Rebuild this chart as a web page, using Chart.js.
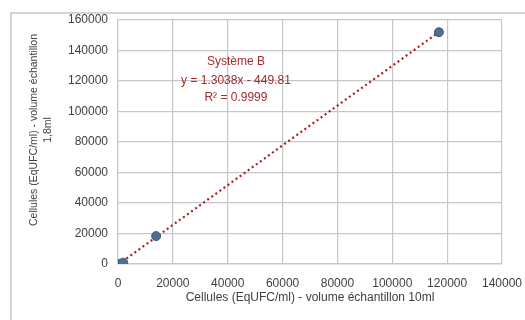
<!DOCTYPE html>
<html>
<head>
<meta charset="utf-8">
<script src="https://cdn.jsdelivr.net/npm/chart.js@4"></script>
<style>
  body { margin: 0; background: #fff; }
  #wrap { position: relative; width: 525px; height: 320px; }
  #frame { position: absolute; left: 10px; top: 12px; width: 520px; height: 320px;
           border-left: 2px solid #d4d4d4; border-top: 2px solid #d4d4d4; }
  canvas { position: absolute; left: 0; top: 0; }
</style>
</head>
<body>
<div id="wrap">
  <div id="frame"></div>
  <canvas id="chart" width="525" height="320"></canvas>
</div>
<script>
'use strict';
// measured points (x = 10ml sample, y = 1,8ml sample)
let xVals = [100, 1900, 13900, 117000];
let yVals = [100, 900, 18300, 152000];
// trendline endpoints (y = 1.3038x - 449.81)
let trendX = [100, 117000];
let trendY = [-320, 152095];
let xTicks = [0, 20000, 40000, 60000, 80000, 100000, 120000, 140000];
let yTicks = [0, 20000, 40000, 60000, 80000, 100000, 120000, 140000, 160000];
let labelLines = ['Système B', 'y = 1.3038x - 449.81', 'R² = 0.9999'];
let xTitle = 'Cellules (EqUFC/ml) - volume échantillon 10ml';
let yTitle = ['Cellules (EqUFC/ml) - volume échantillon', '1,8ml'];

let font = '"Liberation Sans", Arial, sans-serif';

let points = [];
for (let i = 0; i < xVals.length; i++) {
    points.push({x: xVals[i], y: yVals[i]});
}
let trend = [];
for (let i = 0; i < trendX.length; i++) {
    trend.push({x: trendX[i], y: trendY[i]});
}

let textPlugin = {
    id: 'texts',
    afterDraw(chart) {
        let ctx = chart.ctx;
        let xs = chart.scales.x;
        ctx.save();
        // equation label
        ctx.fillStyle = '#a92a2a';
        ctx.font = '12px ' + font;
        ctx.textAlign = 'center';
        ctx.textBaseline = 'middle';
        let cx = xs.getPixelForValue(43000);
        ctx.fillText(labelLines[0], cx, 62);
        ctx.fillText(labelLines[1], cx, 81);
        ctx.fillText(labelLines[2], cx, 98);
        // axis titles
        ctx.fillStyle = '#404040';
        ctx.fillText(xTitle, 310, 298);
        ctx.font = '10.5px ' + font;
        ctx.translate(41, 130);
        ctx.rotate(-Math.PI / 2);
        ctx.fillText(yTitle[0], 0, -7);
        ctx.fillText(yTitle[1], 0, 7);
        ctx.restore();
    }
};

let chart = new Chart(document.getElementById('chart'), {
    type: 'scatter',
    data: {
        datasets: [
            {
                label: 'trend',
                type: 'line',
                data: trend,
                borderColor: '#b01c1c',
                borderWidth: 2.2,
                borderDash: [2, 3],
                pointRadius: 0,
                fill: false,
                order: 2
            },
            {
                label: 'points',
                data: points,
                backgroundColor: '#4f6e92',
                borderColor: '#3f5c7c',
                borderWidth: 1,
                pointRadius: 4.5,
                order: 1
            }
        ]
    },
    options: {
        responsive: false,
        animation: false,
        layout: { padding: { left: 0, top: 20, right: 23, bottom: 0 } },
        plugins: { legend: { display: false }, tooltip: { enabled: false } },
        scales: {
            x: {
                type: 'linear',
                min: 0, max: 140000,
                afterBuildTicks: s => { s.ticks = xTicks.map(v => ({value: v})); },
                afterFit: s => { s.height = 56; s.paddingLeft = 0; s.paddingRight = 0; },
                grid: { color: '#c8c8c8', lineWidth: 1.2, drawTicks: false },
                border: { color: '#c8c8c8', width: 1.2 },
                ticks: { color: '#404040', font: { family: font, size: 12 }, padding: 12, maxRotation: 0,
                         callback: v => String(v) }
            },
            y: {
                type: 'linear',
                min: 0, max: 160000,
                afterBuildTicks: s => { s.ticks = yTicks.map(v => ({value: v})); },
                afterFit: s => { s.width = 118; s.paddingTop = 0; s.paddingBottom = 0; },
                grid: { color: '#c8c8c8', lineWidth: 1.2, drawTicks: false },
                border: { color: '#c8c8c8', width: 1.2 },
                ticks: { color: '#404040', font: { family: font, size: 12 }, padding: 10,
                         callback: v => String(v) }
            }
        }
    },
    plugins: [textPlugin]
});
</script>
</body>
</html>
